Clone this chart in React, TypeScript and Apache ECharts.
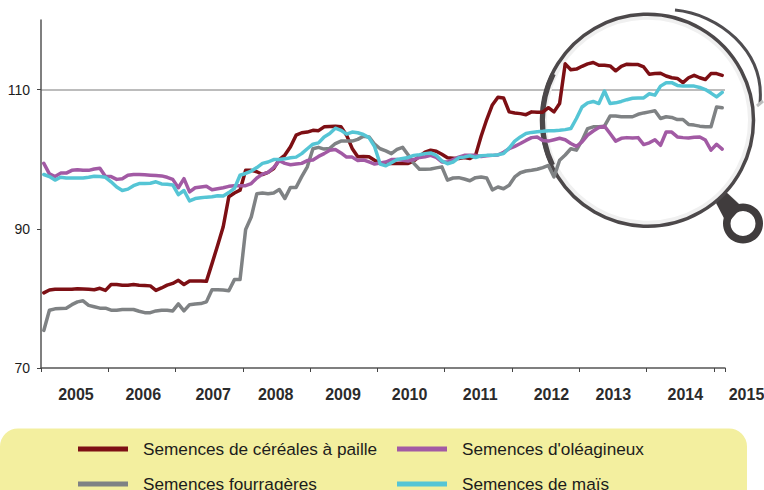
import React, { useEffect, useRef } from "react";
import * as echarts from "echarts";

const FONT = '"Liberation Sans", Arial, sans-serif';
const START_YEAR = 2005;
const MONTHS = 122;
const YEAR_LABEL_POSITIONS = [2005.52, 2006.52, 2007.56, 2008.49, 2009.49, 2010.48, 2011.53, 2012.59, 2013.51, 2014.58, 2015.49];
const Y_TICKS = [70, 90, 110];
const NAMES = ["Semences de céréales à paille", "Semences fourragères", "Semences d'oléagineux", "Semences de maïs"];

const cereales = [
  80.8, 81.2, 81.3, 81.3, 81.3, 81.3, 81.4, 81.35, 81.3, 81.25, 81.45, 81.15,
  82, 82, 81.9, 81.9, 82, 81.9, 81.85, 81.8, 81.15, 81.5, 81.9, 82.15,
  82.6, 82, 82.5, 82.5, 82.5, 82.45, 85, 87.6, 90.3, 94.6, 95.15, 95.55,
  98.4, 98.4, 98.2, 97.8, 98.1, 98.65, 99.95, 100.6, 101.8, 103.45, 103.8, 103.9,
  104.15, 104.1, 104.65, 104.7, 104.75, 104.65, 103.45, 101.55, 100.35, 100.4, 100.35, 99.85,
  99.4, 99.4, 99.4, 99.4, 99.4, 99.4, 99.75, 100.4, 101, 101.3, 101.15, 100.7,
  100.2, 100.15, 100.1, 100.25, 100.1, 100.55, 103.3, 105.7, 107.8, 108.9, 108.8, 106.8,
  106.65, 106.55, 106.4, 106.8, 106.75, 106.75, 107.4, 106.8, 108, 113.7, 112.85, 112.95,
  113.35, 113.7, 113.9, 113.5, 113.5, 113.4, 112.7, 113.35, 113.65, 113.6, 113.6, 113.25,
  112.2, 112.3, 112.35, 111.95, 111.7, 111.6, 111, 111.7, 112.05, 111.7, 111.45, 112.3,
  112.3, 112.05,
];
const fourrageres = [
  75.4, 78.3, 78.5, 78.55, 78.6, 79.1, 79.5, 79.65, 79, 78.8, 78.6, 78.6,
  78.3, 78.3, 78.4, 78.4, 78.4, 78.15, 77.95, 77.95, 78.2, 78.3, 78.3, 78.2,
  79.2, 78.2, 79.1, 79.2, 79.25, 79.5, 81.25, 81.25, 81.2, 81.1, 82.7, 82.7,
  89.9, 91.7, 95.05, 95.15, 95.05, 95.15, 95.65, 94.35, 95.95, 95.95, 97.5, 98.9,
  101.5, 101.7, 101.45, 101.55, 102.25, 102.6, 102.6, 102.6, 102.85, 103.3, 103.2, 102.15,
  101.5, 101.2, 100.8, 101.4, 101.7, 100.6, 99.4, 98.55, 98.55, 98.6, 98.75, 98.9,
  97, 97.3, 97.35, 97.15, 96.9, 97.35, 97.45, 97.3, 95.6, 96, 95.75, 96.25,
  97.45, 98.05, 98.3, 98.4, 98.55, 98.8, 99.1, 97.45, 99.85, 100.6, 101.5, 101.3,
  102.7, 104.4, 104.65, 104.65, 104.75, 106.2, 106.2, 106.1, 106.1, 106.1, 106.45, 106.65,
  106.8, 106.95, 105.85, 106.1, 106, 105.7, 105.7, 105, 104.9, 104.75, 104.65, 104.65,
  107.5, 107.4,
];
const oleagineux = [
  99.4, 97.9, 97.5, 98, 98, 98.4, 98.5, 98.4, 98.4, 98.6, 98.7, 97.5,
  97.5, 97.1, 97.2, 97.7, 97.8, 97.8, 97.75, 97.7, 97.65, 97.6, 97.4, 97.1,
  95.9, 97.2, 95.3, 95.9, 96, 96.1, 95.6, 95.75, 95.9, 96.1, 96.2, 96.2,
  96.2, 96.5, 97.3, 97.85, 98.1, 98.8, 99.8, 99.4, 99.2, 99.3, 99.4, 99.8,
  99.9, 100.4, 100.8, 101.3, 101.4, 100.9, 100.3, 100.3, 99.8, 99.9, 99.6, 99.3,
  99.45, 99.6, 99.95, 99.95, 99.85, 99.75, 99.95, 100.25, 100.35, 100.55, 100.25, 99.6,
  99.6, 99.95, 100.3, 100.55, 100.55, 100.55, 100.4, 100.5, 100.55, 100.6, 101, 101.5,
  101.85, 102.25, 102.7, 103.1, 103.2, 102.7, 102.6, 102.8, 103, 102.8, 102.25, 101.85,
  102.5, 103.45, 104.05, 104.55, 104.75, 103.7, 102.6, 103, 103.1, 103.05, 103.1, 102.1,
  102.35, 102.8, 102, 103.9, 103.9, 103.2, 103.1, 103.05, 103.15, 103.2, 102.75, 101.3,
  102.15, 101.45,
];
const mais = [
  97.8, 97.5, 97, 97.4, 97.3, 97.3, 97.3, 97.3, 97.4, 97.55, 97.5, 97.4,
  96.75, 96, 95.5, 95.7, 96.2, 96.5, 96.5, 96.55, 96.75, 96.45, 96.4, 96.3,
  94.9, 95.5, 94, 94.35, 94.45, 94.55, 94.6, 94.75, 94.7, 95.2, 95.8, 97.7,
  97.95, 98.3, 98.8, 99.4, 99.6, 99.95, 99.95, 100.05, 100.2, 100.3, 100.8, 101.5,
  102.15, 102.35, 103.2, 103.7, 104.45, 104.15, 103.6, 103.9, 103.8, 103.55, 103.1, 101.8,
  99.3, 99.05, 99.5, 99.95, 100.1, 100.25, 100.55, 100.65, 100.8, 100.9, 100.55, 99.75,
  99.35, 99.6, 100.2, 100.3, 100.5, 100.25, 100.5, 100.55, 100.55, 100.65, 100.8, 101.6,
  102.6, 103.2, 103.7, 103.85, 103.95, 104, 104.1, 104.1, 104.15, 104.25, 104.4, 105.85,
  107.5, 108.1, 108.3, 108, 109.8, 108, 108.1, 108.3, 108.55, 108.75, 108.8, 108.8,
  109.4, 109.2, 110.5, 111, 111, 110.6, 110.5, 110.5, 110.5, 110.3, 110, 109.5,
  108.95, 109.6,
];
const SERIES_VALUES = [cereales, fourrageres, oleagineux, mais];
const COLORS = ["#7d0f14", "#7f8284", "#a25aa4", "#55c5d5"];

const months = Array.from({ length: MONTHS }, (_, i) => `${START_YEAR + Math.floor(i / 12)}-${(i % 12) + 1}`);

export default function App() {
  const ref = useRef<HTMLDivElement>(null);
  useEffect(() => {
    const chart = echarts.init(ref.current!, undefined, { renderer: "svg" });
    const legendBase = {
      orient: "vertical" as const,
      top: 440.5,
      height: 90,
      padding: 0,
      itemGap: 18,
      itemWidth: 50,
      itemHeight: 5,
      icon: "rect",
      textStyle: { fontFamily: FONT, fontSize: 17.2, color: "#1c1c1c", padding: [0, 0, 0, 10] },
    };
    chart.setOption({
      animation: false,
      backgroundColor: "#ffffff",
      textStyle: { fontFamily: FONT },
      grid: [
        { left: 41, right: 39, top: 20, height: 348, outerBoundsMode: "none" },
        { left: 41, right: 0, top: 20, height: 348, outerBoundsMode: "none" },
      ],
      xAxis: [
        {
          type: "category",
          gridIndex: 0,
          data: months,
          boundaryGap: true,
          axisLine: { lineStyle: { color: "#555555", width: 1.5 } },
          axisTick: { show: true, length: 4, interval: (i: number) => i % 12 === 0, lineStyle: { color: "#444444" } },
          axisLabel: { show: false },
          splitLine: { show: false },
        },
        {
          type: "value",
          gridIndex: 1,
          min: 2005,
          max: 2015.75,
          axisLine: { show: false },
          axisTick: { show: false },
          splitLine: { show: false },
          axisLabel: {
            customValues: YEAR_LABEL_POSITIONS,
            formatter: (v: number) => String(Math.floor(v)),
            margin: 18,
            fontFamily: FONT,
            fontSize: 16,
            fontWeight: "bold",
            color: "#2b2b2b",
            showMinLabel: true,
            showMaxLabel: true,
            hideOverlap: false,
          },
        },
      ],
      yAxis: [
        {
          type: "value",
          gridIndex: 0,
          min: 70,
          max: 120,
          interval: 10,
          axisLine: { show: true, lineStyle: { color: "#555555", width: 1.5 } },
          axisTick: { show: true, length: 4, customValues: Y_TICKS, lineStyle: { color: "#444444" } },
          axisLabel: {
            customValues: Y_TICKS,
            margin: 11,
            fontFamily: FONT,
            fontSize: 14,
            color: "#1c1c1c",
          },
          splitLine: {
            show: true,
            lineStyle: {
              color: ["transparent", "transparent", "#a6a6a6", "transparent", "#a6a6a6", "transparent"],
              width: 1.5,
            },
          },
        },
        { type: "value", gridIndex: 1, min: 70, max: 120, show: false },
      ],
      legend: [
        { ...legendBase, left: 78, data: [NAMES[0], NAMES[1]] },
        { ...legendBase, left: 397, data: [NAMES[2], NAMES[3]] },
      ],
      graphic: [
        {
          type: "rect",
          z: 0,
          silent: true,
          shape: { x: 0, y: 428.5, width: 747, height: 90, r: 18 },
          style: { fill: "#f3ef9f" },
        },
        {
          type: "circle",
          z: 1,
          silent: true,
          shape: { cx: 647.5, cy: 120.3, r: 102.5 },
          style: { fill: "none", stroke: "#f0f0f0", lineWidth: 4 },
        },
        {
          type: "bezierCurve",
          z: 1,
          silent: true,
          shape: { x1: 675, y1: 10, x2: 760, y2: 103, cpx1: 718, cpy1: 14, cpx2: 765, cpy2: 50 },
          style: { stroke: "#4f4d50", lineWidth: 3, fill: "none" },
        },
        {
          type: "line",
          z: 1,
          silent: true,
          shape: { x1: 757, y1: 106, x2: 763, y2: 101 },
          style: { stroke: "#bdbdbd", lineWidth: 3 },
        },
        {
          type: "line",
          z: 1,
          silent: true,
          shape: { x1: 727, y1: 194, x2: 739, y2: 205 },
          style: { stroke: "#b5b5b5", lineWidth: 2 },
        },
        {
          type: "polygon",
          z: 1,
          silent: true,
          shape: { points: [[716, 203], [725, 191], [742, 207], [727, 224]] },
          style: { fill: "#403c3d" },
        },
        {
          type: "ring",
          z: 1,
          silent: true,
          shape: { cx: 743, cy: 223.5, r: 20, r0: 12.5 },
          style: { fill: "#403c3d" },
        },
        {
          type: "circle",
          z: 1,
          silent: true,
          shape: { cx: 647.5, cy: 120.3, r: 106 },
          style: { fill: "none", stroke: "#4c484a", lineWidth: 3.5 },
        },
        {
          type: "arc",
          z: 1,
          silent: true,
          shape: { cx: 647.5, cy: 120.3, r: 105, startAngle: 2.7, endAngle: 3.6 },
          style: { fill: "none", stroke: "#4c484a", lineWidth: 5 },
        },
      ],
      series: NAMES.map((name, i) => ({
        name,
        type: "line",
        xAxisIndex: 0,
        yAxisIndex: 0,
        data: SERIES_VALUES[i],
        showSymbol: false,
        symbol: "none",
        lineStyle: { color: COLORS[i], width: 3.5, cap: "round", join: "round" },
        itemStyle: { color: COLORS[i] },
        z: 3 + i,
      })),
    });
    return () => chart.dispose();
  }, []);
  return <div ref={ref} style={{ position: "fixed", left: 0, top: 0, width: 764, height: 490 }} />;
}
